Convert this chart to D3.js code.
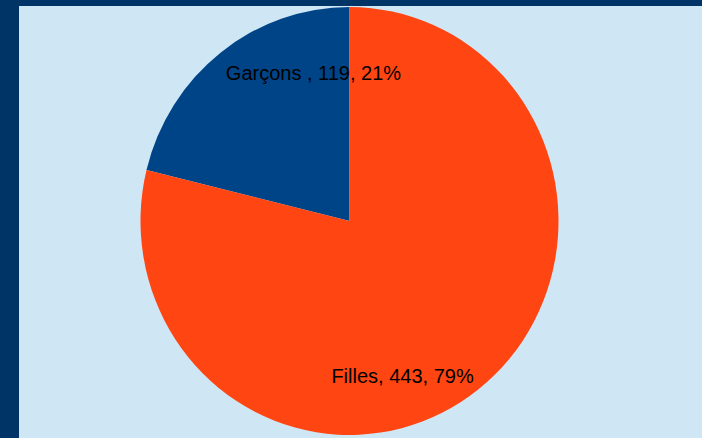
<!DOCTYPE html>
<html>
<head>
<meta charset="utf-8">
<script src="https://cdn.jsdelivr.net/npm/d3@7"></script>
<style>
  body { margin: 0; background: #003366; }
  svg { display: block; }
  .slice-label { font-family: "Liberation Sans", Arial, sans-serif; font-size: 20px; fill: #000; }
</style>
</head>
<body>
<div id="chart"></div>
<script>
// Data
const categories = ['Garçons ', 'Filles'];
const counts = [119, 443];
const colors = ['#004488', '#ff4511'];

const svgW = 702;
const svgH = 438;
const cx = 349.5;
const cy = 221;
const rx = 209;
const ry = 214;

// label placement relative to slice middle
const labelLayout = [
  { r: 152, shift: 0.426, dy: 7 },
  { r: 164, shift: 0.336, dy: 7 }
];

const total = d3.sum(counts);
const data = categories.map((c, i) => ({ name: c, value: counts[i], i }));

const svg = d3.select('#chart').append('svg')
  .attr('width', svgW)
  .attr('height', svgH);

// background panel
svg.append('rect')
  .attr('x', 19)
  .attr('y', 6)
  .attr('width', svgW - 19)
  .attr('height', svgH - 6)
  .attr('fill', '#cfe6f4');

const pie = d3.pie()
  .value(d => d.value)
  .sort(null)
  .startAngle(-2 * Math.PI * counts[0] / total)
  .endAngle(2 * Math.PI - 2 * Math.PI * counts[0] / total);

const arcs = pie(data);
const arc = d3.arc().innerRadius(0).outerRadius(rx);

const gP = svg.append('g')
  .attr('transform', `translate(${cx},${cy}) scale(1,${ry / rx})`);

gP.selectAll('path')
  .data(arcs)
  .enter()
  .append('path')
  .attr('d', arc)
  .attr('fill', d => colors[d.data.i]);

// Labels
const pct = d3.format('.0%');
const gL = svg.append('g')
  .attr('transform', `translate(${cx},${cy})`);
arcs.forEach((a) => {
  const L = labelLayout[a.data.i];
  const ang = (a.startAngle + a.endAngle) / 2 + L.shift;
  gL.append('text')
    .attr('class', 'slice-label')
    .attr('x', L.r * Math.sin(ang))
    .attr('y', -L.r * Math.cos(ang))
    .attr('dy', L.dy)
    .attr('text-anchor', 'middle')
    .text(`${a.data.name}, ${a.data.value}, ${pct(a.data.value / total)}`);
});
</script>
</body>
</html>
